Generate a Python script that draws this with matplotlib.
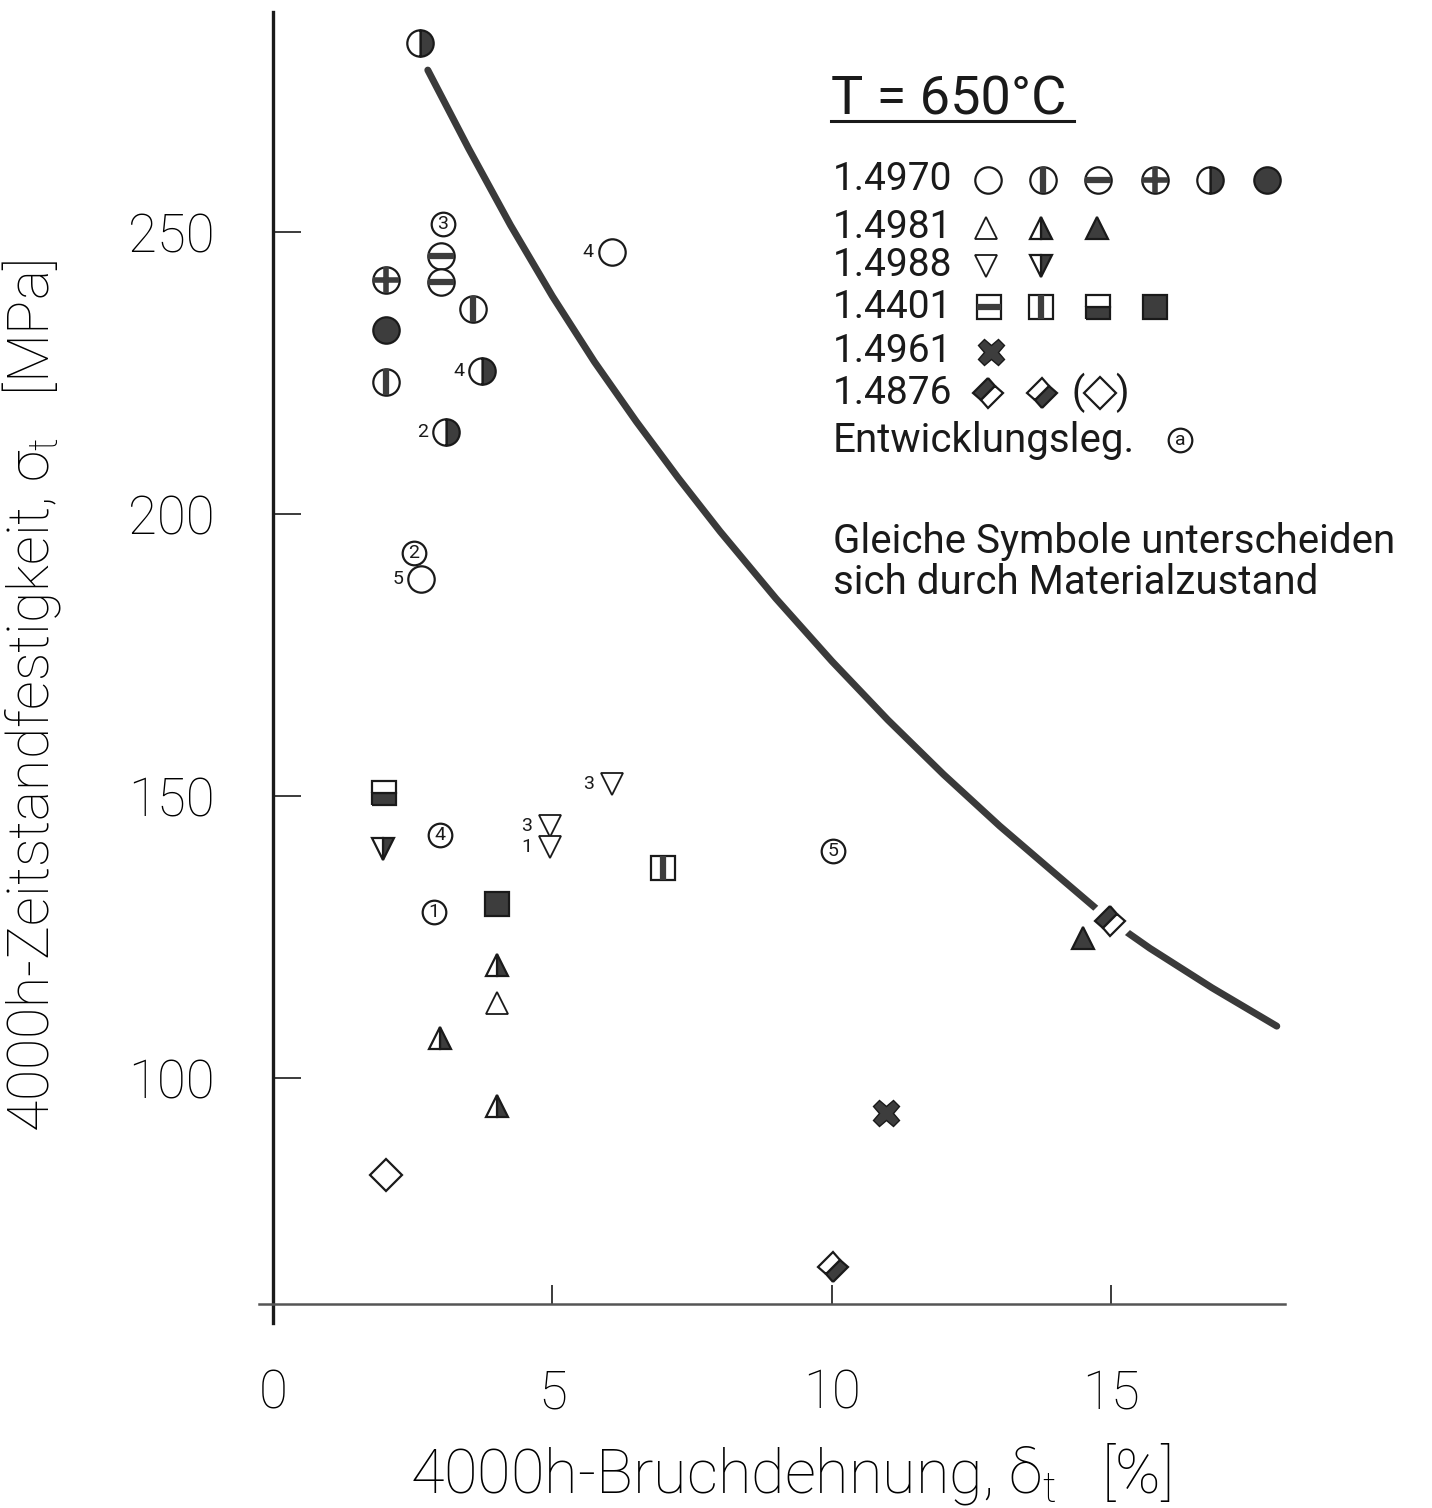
import numpy as np
import matplotlib
matplotlib.use('Agg')
from matplotlib import pyplot as plt
from matplotlib.markers import MarkerStyle
from matplotlib.transforms import Affine2D

plt.rcParams['font.family'] = ['Roboto', 'DejaVu Sans']
plt.rcParams['mathtext.fontset'] = 'dejavusans'

INK = '#1a1a1a'
FILL = '#3d3d3d'

# ---- data ----
# strength curve (upper bound)
curve_x = [2.77, 3.5, 4.25, 5.0, 5.75, 6.5, 7.25, 8.0, 9.0, 10.0,
           11.0, 12.0, 13.0, 14.0, 14.97, 15.69, 16.8, 17.96]
curve_y = [278.7, 264.8, 251.2, 238.6, 227.0, 216.4, 206.4, 196.9, 185.0, 173.9,
           163.5, 153.8, 144.7, 136.2, 128.0, 123.0, 116.0, 109.2]

# 1.4970
circ_open_x = [6.06, 2.65]
circ_open_y = [246.5, 188.5]
circ_vbar_x = [3.58, 2.02]
circ_vbar_y = [236.4, 223.4]
circ_hbar_x = [3.0, 3.0]
circ_hbar_y = [245.7, 241.2]
circ_plus_x = [2.02]
circ_plus_y = [241.5]
circ_half_x = [2.63, 3.74, 3.10]
circ_half_y = [283.5, 225.4, 214.5]
circ_full_x = [2.03]
circ_full_y = [232.6]
# 1.4981
tri_open_x = [4.0]
tri_open_y = [113.3]
tri_half_x = [4.0, 2.98, 4.0]
tri_half_y = [120.1, 107.1, 95.0]
tri_full_x = [14.49]
tri_full_y = [124.8]
# 1.4988
dtri_open_x = [6.06, 4.96, 4.96]
dtri_open_y = [152.1, 144.7, 141.0]
dtri_half_x = [1.97]
dtri_half_y = [140.6]
# 1.4401
sq_vbar_x = [6.98]
sq_vbar_y = [137.2]
sq_half_x = [1.98]
sq_half_y = [150.5]
sq_full_x = [4.0]
sq_full_y = [130.8]
# 1.4961
cross_x = [10.97]
cross_y = [93.8]
# 1.4876
dia_a_x = [14.97]
dia_a_y = [127.8]
dia_b_x = [10.02]
dia_b_y = [66.5]
dia_open_x = [2.02]
dia_open_y = [82.8]
# Entwicklungslegierungen (circled numbers)
dev_x = [3.04, 2.52, 2.99, 2.88, 10.02]
dev_y = [251.4, 193.1, 143.1, 129.4, 140.2]
dev_num = ['3', '2', '4', '1', '5']
# small numbers written next to points
note_x = [6.06, 2.65, 3.74, 3.10, 6.06, 4.96, 4.96]
note_y = [246.5, 188.5, 225.4, 214.5, 152.1, 144.7, 141.0]
note_txt = ['4', '5', '4', '2', '3', '3', '1']

leg_labels = ['1.4970', '1.4981', '1.4988', '1.4401', '1.4961', '1.4876']
leg_symbols = [['o_open', 'o_vbar', 'o_hbar', 'o_plus', 'o_half', 'o_full'],
               ['^_open', '^_half', '^_full'],
               ['v_open', 'v_half'],
               ['s_hbar', 's_vbar', 's_half', 's_full'],
               ['x_full'],
               ['D_a', 'D_b']]


def mark(ax, kind, xs, ys, trans=None, z=5):
    kw = dict(linestyle='none', clip_on=False, zorder=z)
    if trans is not None:
        kw['transform'] = trans
    shape, style = kind.split('_')
    edge = dict(mec=INK, mew=1.6)
    if shape == 'o':
        ms = 19
        if style == 'full':
            ax.plot(xs, ys, marker='o', ms=ms, mfc=FILL, **edge, **kw)
        elif style == 'half':
            ax.plot(xs, ys, marker='o', ms=ms, fillstyle='right', mfc=FILL,
                    markerfacecoloralt='white', **edge, **kw)
        else:
            ax.plot(xs, ys, marker='o', ms=ms, mfc='white', **edge, **kw)
        if style == 'vbar':
            ax.plot(xs, ys, marker='|', ms=ms, mec=FILL, mew=4.5, **kw)
        if style == 'hbar':
            ax.plot(xs, ys, marker='_', ms=ms, mec=FILL, mew=4.5, **kw)
        if style == 'plus':
            ax.plot(xs, ys, marker='+', ms=ms, mec=FILL, mew=4, **kw)
    elif shape in '^v':
        ms = 16
        if style == 'full':
            ax.plot(xs, ys, marker=shape, ms=ms, mfc=FILL, **edge, **kw)
        elif style == 'half':
            ax.plot(xs, ys, marker=shape, ms=ms, fillstyle='right', mfc=FILL,
                    markerfacecoloralt='white', **edge, **kw)
        else:
            ax.plot(xs, ys, marker=shape, ms=ms, mfc='white', mec=INK, mew=1.3, **kw)
    elif shape == 's':
        ms = 17
        if style == 'full':
            ax.plot(xs, ys, marker='s', ms=ms, mfc=FILL, **edge, **kw)
        elif style == 'half':
            ax.plot(xs, ys, marker='s', ms=ms, fillstyle='bottom', mfc=FILL,
                    markerfacecoloralt='white', **edge, **kw)
        else:
            ax.plot(xs, ys, marker='s', ms=ms, mfc='white', **edge, **kw)
        if style == 'vbar':
            ax.plot(xs, ys, marker='|', ms=ms, mec=FILL, mew=4.5, **kw)
        if style == 'hbar':
            ax.plot(xs, ys, marker='_', ms=ms, mec=FILL, mew=4.5, **kw)
    elif shape == 'x':
        ax.plot(xs, ys, marker='X', ms=19, mfc=FILL, mec=INK, mew=1, **kw)
    elif shape == 'D':
        if style == 'open':
            ax.plot(xs, ys, marker='D', ms=16, mfc='white', mec=INK, mew=1.6, **kw)
        else:
            fs = 'top' if style == 'a' else 'bottom'
            m = MarkerStyle('s', fillstyle=fs, transform=Affine2D().rotate_deg(45))
            ax.plot(xs, ys, marker=m, ms=15, mfc=FILL, markerfacecoloralt='white',
                    mec=INK, mew=1.6, **kw)


fig = plt.figure(figsize=(14.32, 15.08), dpi=100)
ax = fig.add_axes([0.1711, 0.1168, 0.7416, 0.879])
ax.set_xlim(-0.5, 18.5)
ax.set_ylim(55, 290)

for s in ['top', 'right']:
    ax.spines[s].set_visible(False)
ax.spines['left'].set_position(('data', 0))
ax.spines['bottom'].set_position(('data', 60))
ax.spines['left'].set_bounds(56.5, 289)
ax.spines['bottom'].set_bounds(-0.25, 18.1)
ax.spines['left'].set_linewidth(2.4)
ax.spines['bottom'].set_linewidth(1.8)
ax.spines['left'].set_color(INK)
ax.spines['bottom'].set_color('#555555')

ax.set_xticks([0, 5, 10, 15])
ax.set_yticks([100, 150, 200, 250])
ax.tick_params(axis='y', direction='in', length=20, width=1.2, pad=42,
               labelsize=38, colors=INK)
ax.tick_params(axis='x', direction='in', length=14, width=1.2, pad=46,
               labelsize=38, colors=INK)
for lab in ax.get_xticklabels() + ax.get_yticklabels():
    lab.set_fontweight('light')
    lab.set_color('black')

# curve
ax.plot(curve_x, curve_y, color='#3a3a3a', lw=5, solid_capstyle='round',
        solid_joinstyle='round', zorder=3)

# gap in the curve round the diamond
halo = MarkerStyle('s', transform=Affine2D().rotate_deg(45))
ax.plot(dia_a_x, dia_a_y, linestyle='none', marker=halo, ms=27, mfc='white',
        mec='white', zorder=4)

mark(ax, 'o_open', circ_open_x, circ_open_y)
mark(ax, 'o_vbar', circ_vbar_x, circ_vbar_y)
mark(ax, 'o_hbar', circ_hbar_x, circ_hbar_y)
mark(ax, 'o_plus', circ_plus_x, circ_plus_y)
mark(ax, 'o_half', circ_half_x, circ_half_y)
mark(ax, 'o_full', circ_full_x, circ_full_y)
mark(ax, '^_open', tri_open_x, tri_open_y)
mark(ax, '^_half', tri_half_x, tri_half_y)
mark(ax, '^_full', tri_full_x, tri_full_y)
mark(ax, 'v_open', dtri_open_x, dtri_open_y)
mark(ax, 'v_half', dtri_half_x, dtri_half_y)
mark(ax, 's_vbar', sq_vbar_x, sq_vbar_y)
mark(ax, 's_half', sq_half_x, sq_half_y)
mark(ax, 's_full', sq_full_x, sq_full_y)
mark(ax, 'x_full', cross_x, cross_y)
mark(ax, 'D_a', dia_a_x, dia_a_y)
mark(ax, 'D_b', dia_b_x, dia_b_y)
mark(ax, 'D_open', dia_open_x, dia_open_y)

ax.plot(dev_x, dev_y, linestyle='none', marker='o', ms=17, mfc='white',
        mec=INK, mew=1.6, zorder=5)
for x, y, t in zip(dev_x, dev_y, dev_num):
    ax.text(x, y, t, fontsize=14, ha='center', va='center', color=INK, zorder=6)

for x, y, t in zip(note_x, note_y, note_txt):
    ax.annotate(t, (x, y), xytext=(-13, 0), textcoords='offset points',
                fontsize=14, ha='right', va='center', color=INK)

ax.set_xlabel(r'4000h-Bruchdehnung, $\mathregular{\delta_t}$   [%]', fontsize=44,
              color='black', fontweight='light')
ax.xaxis.set_label_coords(0.513, -0.082)
ax.set_ylabel(r'4000h-Zeitstandfestigkeit, $\mathregular{\sigma_t}$   [MPa]',
              fontsize=41, color='black', fontweight='light')
ax.yaxis.set_label_coords(-0.171, 0.48)

# ---- legend block, placed in figure pixels ----
W, H = 1432.0, 1508.0


def fp(px, py):
    return px / W, 1 - py / H


fig.text(*fp(831, 100), 'T = 650°C', fontsize=39, ha='left', va='center', color=INK)
fig.add_artist(plt.Line2D([831 / W, 1074 / W], [1 - 121 / H, 1 - 121 / H],
                          color=INK, lw=2.2))

row_y = [180, 228, 266, 307, 352, 393]
row_x = [[988, 1043, 1098, 1155, 1210, 1267],
         [986, 1041, 1097],
         [986, 1041],
         [989, 1041, 1098, 1155],
         [991],
         [988, 1042]]
for lab, syms, py, pxs in zip(leg_labels, leg_symbols, row_y, row_x):
    fig.text(*fp(833, py), lab, fontsize=28, ha='left', va='center', color=INK)
    for k, px in zip(syms, pxs):
        x, y = fp(px, py)
        mark(ax, k, [x], [y], trans=fig.transFigure, z=7)

fig.text(*fp(1078, 393), '(', fontsize=28, ha='center', va='center', color=INK)
x, y = fp(1100, 393)
mark(ax, 'D_open', [x], [y], trans=fig.transFigure, z=7)
fig.text(*fp(1122, 393), ')', fontsize=28, ha='center', va='center', color=INK)

fig.text(*fp(833, 440), 'Entwicklungsleg.', fontsize=29, ha='left', va='center',
         color=INK)
x, y = fp(1180, 440)
ax.plot([x], [y], transform=fig.transFigure, linestyle='none', marker='o', ms=17,
        mfc='white', mec=INK, mew=1.6, clip_on=False, zorder=7)
fig.text(x, y, 'a', fontsize=14, ha='center', va='center', color=INK)

fig.text(*fp(833, 541), 'Gleiche Symbole unterscheiden', fontsize=29,
         ha='left', va='center', color=INK)
fig.text(*fp(833, 582), 'sich durch Materialzustand', fontsize=29,
         ha='left', va='center', color=INK)

fig.savefig('out.png', dpi=100, facecolor='white')
